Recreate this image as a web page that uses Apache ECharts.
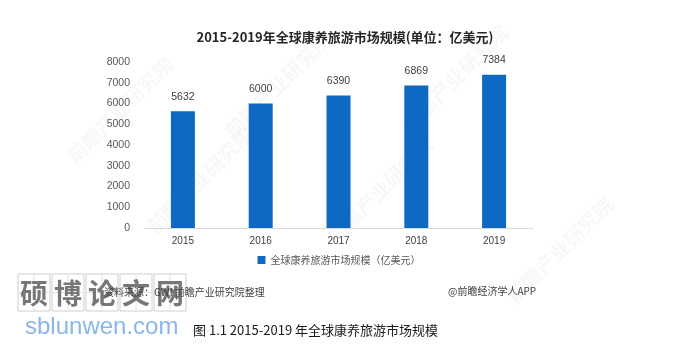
<!DOCTYPE html>
<html>
<head>
<meta charset="utf-8">
<script src="https://cdn.jsdelivr.net/npm/echarts@6/dist/echarts.min.js"></script>
<style>
  html, body { margin: 0; padding: 0; background: #ffffff; }
  #chart { width: 678px; height: 345px; }
</style>
</head>
<body>
<div id="chart"></div>
<script>
// 2015-2019 global wellness tourism market size (100M USD)
const years = ['2015', '2016', '2017', '2018', '2019'];
const marketSize = [5632, 6000, 6390, 6869, 7384];
const seriesName = '全球康养旅游市场规模（亿美元）';
const titleText = '2015-2019年全球康养旅游市场规模(单位：亿美元)';
const sourceText = '资料来源：GWI 前瞻产业研究院整理';
const creditText = '@前瞻经济学人APP';
const captionText = '图 1.1 2015-2019 年全球康养旅游市场规模';
const siteChars = ['硕', '博', '论', '文', '网'];
const siteUrl = 'sblunwen.com';

const cjk = '"Noto Sans CJK SC", "Liberation Sans", sans-serif';

const chart = echarts.init(document.getElementById('chart'), null, { renderer: 'canvas' });

// faint brand stamps scattered behind the plot
const stamps = [
  [278, 85], [455, 78], [200, 180], [380, 190], [120, 110], [560, 250]
].map(([x, y]) => ({
  type: 'text', x: x, y: y, rotation: Math.PI / 4, z: -1,
  style: { text: '前瞻产业研究院', fill: 'rgba(0,0,0,0.03)', font: 'bold 20px ' + cjk, align: 'center', verticalAlign: 'middle' }
}));

// boxed characters of the site stamp
const boxes = [];
siteChars.forEach((ch, i) => {
  const x0 = 18 + i * 34;
  boxes.push({
    type: 'rect', shape: { x: x0, y: 274, width: 32, height: 37 },
    style: { fill: 'rgba(255,255,255,0)', stroke: '#cfcfcf', lineWidth: 1 }
  });
  boxes.push({
    type: 'line', shape: { x1: x0 + 16, y1: 274, x2: x0 + 16, y2: 311 },
    style: { stroke: '#e4e4e4', lineWidth: 1 }
  });
  boxes.push({
    type: 'line', shape: { x1: x0, y1: 292.5, x2: x0 + 32, y2: 292.5 },
    style: { stroke: '#e4e4e4', lineWidth: 1 }
  });
  boxes.push({
    type: 'text', x: x0 + 16, y: 293,
    style: { text: ch, fill: '#777777', font: 'bold 28px ' + cjk, align: 'center', verticalAlign: 'middle' }
  });
});

const option = {
  backgroundColor: '#ffffff',
  animation: false,
  title: {
    text: titleText,
    left: 340, top: 26, textAlign: 'center',
    textStyle: { fontFamily: cjk, fontSize: 13, fontWeight: 'bold', color: '#262626' }
  },
  legend: {
    data: [seriesName],
    left: 'center', top: 250,
    itemWidth: 8, itemHeight: 8, itemGap: 6,
    icon: 'rect',
    textStyle: { fontFamily: cjk, fontSize: 10, color: '#595959' }
  },
  grid: { left: 144, right: 145, top: 62, bottom: 117 },
  xAxis: {
    type: 'category',
    data: years,
    axisLine: { lineStyle: { color: '#d9d9d9' } },
    axisTick: { show: false },
    axisLabel: { margin: 8, fontFamily: '"Liberation Sans", sans-serif', fontSize: 10, color: '#404040' }
  },
  yAxis: {
    type: 'value',
    min: 0, max: 8000, interval: 1000,
    axisLine: { show: false },
    axisTick: { show: false },
    splitLine: { show: false },
    axisLabel: {
      margin: 14, fontFamily: '"Liberation Sans", sans-serif', fontSize: 10.5, color: '#595959',
      formatter: v => String(v)
    }
  },
  series: [{
    name: seriesName,
    type: 'bar',
    data: marketSize,
    barWidth: 24,
    itemStyle: { color: '#0e69c2' },
    label: {
      show: true, position: 'top', distance: 9,
      fontFamily: '"Liberation Sans", sans-serif', fontSize: 10.5, color: '#404040'
    }
  }],
  graphic: [
    ...stamps,
    ...boxes,
    {
      type: 'text', x: 25, y: 327,
      style: { text: siteUrl, fill: '#8ab6ea', font: '24px "Liberation Sans", sans-serif', verticalAlign: 'middle' }
    },
    {
      type: 'text', x: 104, y: 292,
      style: { text: sourceText, fill: '#404040', font: '10px ' + cjk, verticalAlign: 'middle' }
    },
    {
      type: 'text', x: 448, y: 291,
      style: { text: creditText, fill: '#404040', font: '10px ' + cjk, verticalAlign: 'middle' }
    },
    {
      type: 'text', x: 193, y: 330,
      style: { text: captionText, fill: '#1a1a1a', font: '13px ' + cjk, verticalAlign: 'middle' }
    }
  ]
};

chart.setOption(option);
</script>
</body>
</html>
